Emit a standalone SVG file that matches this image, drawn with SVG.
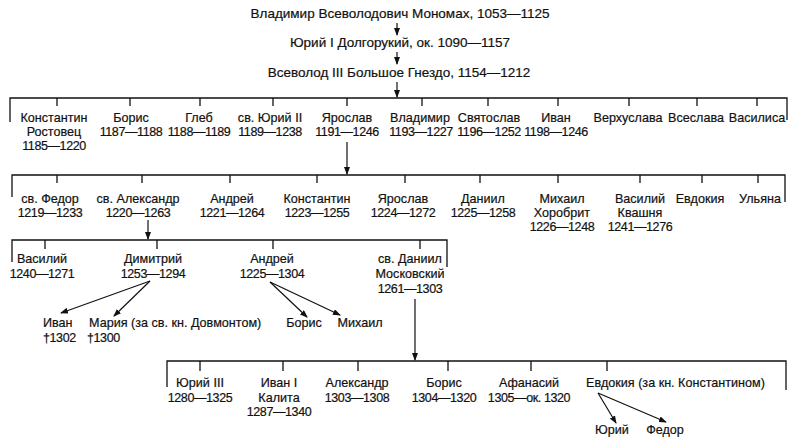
<svg xmlns="http://www.w3.org/2000/svg" width="800" height="443" viewBox="0 0 800 443">
<defs>
<marker id="ah" markerWidth="8" markerHeight="6" refX="7" refY="3" orient="auto" markerUnits="userSpaceOnUse">
<path d="M0,0 L8,3 L0,6 Z" fill="#111"/>
</marker>
<style>
text{font-family:"Liberation Sans","DejaVu Sans",sans-serif;font-size:12.6px;fill:#111;text-anchor:middle;stroke:#111;stroke-width:0.2}
.top{font-size:13.5px}
.d{font-size:12.5px;letter-spacing:-0.4px}
.st{text-anchor:start}
.ln{stroke:#111;stroke-width:1.3;fill:none}
.ar{stroke:#111;stroke-width:1.2;fill:none;marker-end:url(#ah)}
</style>
</defs>
<rect width="800" height="443" fill="#fff"/>

<g id="connectors">
<line class="ar" x1="397" y1="23" x2="397" y2="35"/>
<line class="ar" x1="397" y1="52" x2="397" y2="64"/>
<line class="ar" x1="397" y1="82" x2="397" y2="97"/>
<path class="ln" d="M10,122 V98 H787 V120"/>
<path class="ln" d="M57,98 V106 M130,98 V106 M200,98 V106 M273,98 V106 M347,98 V106 M422,98 V106 M488,98 V106 M558,98 V106 M629,98 V106 M697,98 V106 M757,98 V106"/>
<line class="ar" x1="347" y1="142" x2="347" y2="174"/>
<path class="ln" d="M12,197 V175 H785 V202"/>
<path class="ln" d="M57,175 V183 M142,175 V183 M230,175 V183 M317,175 V183 M405,175 V183 M480,175 V183 M558,175 V183 M640,175 V183 M702,175 V183 M758,175 V183"/>
<line class="ar" x1="148" y1="220" x2="148" y2="239"/>
<path class="ln" d="M12,262 V240 H447 V267"/>
<path class="ln" d="M45,240 V249 M157,240 V249 M273,240 V249 M420,240 V249"/>
<line class="ar" x1="150" y1="281" x2="61" y2="313"/>
<line class="ar" x1="150" y1="281" x2="114" y2="316"/>
<line class="ar" x1="270" y1="282" x2="307" y2="317"/>
<line class="ar" x1="270" y1="282" x2="340" y2="315"/>
<line class="ar" x1="415" y1="299" x2="415" y2="360"/>
<path class="ln" d="M167,387 V361 H786 V390"/>
<path class="ln" d="M200,361 V371 M283,361 V371 M358,361 V371 M448,361 V371 M531,361 V371 M607,361 V371"/>
<line class="ar" x1="598" y1="393" x2="616" y2="423"/>
<line class="ar" x1="598" y1="393" x2="666" y2="422"/>
</g>

<g id="n-monomakh"><text class="top" x="400" y="18">Владимир Всеволодович Мономах, 1053—1125</text></g>
<g id="n-yuri1"><text class="top" x="400" y="47">Юрий I Долгорукий, ок. 1090—1157</text></g>
<g id="n-vsevolod3"><text class="top" x="399" y="77">Всеволод III Большое Гнездо, 1154—1212</text></g>

<g id="n-konstantin-r"><text x="54" y="122">Константин</text><text x="54" y="136">Ростовец</text><text class="d" x="54" y="150">1185—1220</text></g>
<g id="n-boris1"><text x="131" y="122">Борис</text><text class="d" x="131" y="136">1187—1188</text></g>
<g id="n-gleb"><text x="199" y="122">Глеб</text><text class="d" x="199" y="136">1188—1189</text></g>
<g id="n-yuri2"><text x="270" y="122">св. Юрий II</text><text class="d" x="270" y="136">1189—1238</text></g>
<g id="n-yaroslav1"><text x="347" y="122">Ярослав</text><text class="d" x="347" y="136">1191—1246</text></g>
<g id="n-vladimir1"><text x="420" y="122">Владимир</text><text class="d" x="421" y="136">1193—1227</text></g>
<g id="n-svyatoslav"><text x="489" y="122">Святослав</text><text class="d" x="489" y="136">1196—1252</text></g>
<g id="n-ivan1"><text x="556" y="122">Иван</text><text class="d" x="556" y="136">1198—1246</text></g>
<g id="n-verkhuslava"><text x="628" y="122">Верхуслава</text></g>
<g id="n-vseslava"><text x="696" y="122">Всеслава</text></g>
<g id="n-vasilisa"><text x="757" y="122">Василиса</text></g>

<g id="n-fedor2"><text x="50" y="203">св. Федор</text><text class="d" x="50" y="217">1219—1233</text></g>
<g id="n-aleksandr"><text x="138" y="203">св. Александр</text><text class="d" x="138" y="217">1220—1263</text></g>
<g id="n-andrei2"><text x="232" y="203">Андрей</text><text class="d" x="232" y="217">1221—1264</text></g>
<g id="n-konstantin2"><text x="317" y="203">Константин</text><text class="d" x="317" y="217">1223—1255</text></g>
<g id="n-yaroslav2"><text x="403" y="203">Ярослав</text><text class="d" x="403" y="217">1224—1272</text></g>
<g id="n-daniil2"><text x="483" y="203">Даниил</text><text class="d" x="483" y="217">1225—1258</text></g>
<g id="n-mikhail2"><text x="562" y="203">Михаил</text><text x="562" y="217">Хоробрит</text><text class="d" x="562" y="231">1226—1248</text></g>
<g id="n-vasily2"><text x="640" y="203">Василий</text><text x="640" y="217">Квашня</text><text class="d" x="640" y="231">1241—1276</text></g>
<g id="n-evdokia2"><text x="700" y="203">Евдокия</text></g>
<g id="n-ulyana"><text x="760" y="203">Ульяна</text></g>

<g id="n-vasily3"><text x="42" y="263">Василий</text><text class="d" x="42" y="278">1240—1271</text></g>
<g id="n-dimitry"><text x="153" y="263">Димитрий</text><text class="d" x="153" y="278">1253—1294</text></g>
<g id="n-andrei3"><text x="272" y="263">Андрей</text><text class="d" x="272" y="278">1225—1304</text></g>
<g id="n-daniil3"><text x="410" y="263">св. Даниил</text><text x="410" y="278">Московский</text><text class="d" x="410" y="293">1261—1303</text></g>
<g id="n-ivan-d"><text class="st" x="43" y="327">Иван</text><text class="st d" x="43" y="342">†1302</text></g>
<g id="n-maria"><text class="st" x="89" y="327">Мария (за св. кн. Довмонтом)</text><text class="st d" x="87" y="342">†1300</text></g>
<g id="n-boris-a"><text x="304" y="327">Борис</text></g>
<g id="n-mikhail-a"><text x="360" y="327">Михаил</text></g>

<g id="n-yuri3"><text x="200" y="387">Юрий III</text><text class="d" x="200" y="402">1280—1325</text></g>
<g id="n-ivan-kalita"><text x="279" y="387">Иван I</text><text x="279" y="402">Калита</text><text class="d" x="279" y="416">1287—1340</text></g>
<g id="n-aleksandr4"><text x="357" y="387">Александр</text><text class="d" x="357" y="402">1303—1308</text></g>
<g id="n-boris4"><text x="444" y="387">Борис</text><text class="d" x="444" y="402">1304—1320</text></g>
<g id="n-afanasy"><text x="529" y="387">Афанасий</text><text class="d" x="529" y="402">1305—ок. 1320</text></g>
<g id="n-evdokia4"><text class="st" x="586" y="387">Евдокия (за кн. Константином)</text></g>
<g id="n-yuri-e"><text x="612" y="434">Юрий</text></g>
<g id="n-fedor-e"><text x="665" y="434">Федор</text></g>
</svg>
